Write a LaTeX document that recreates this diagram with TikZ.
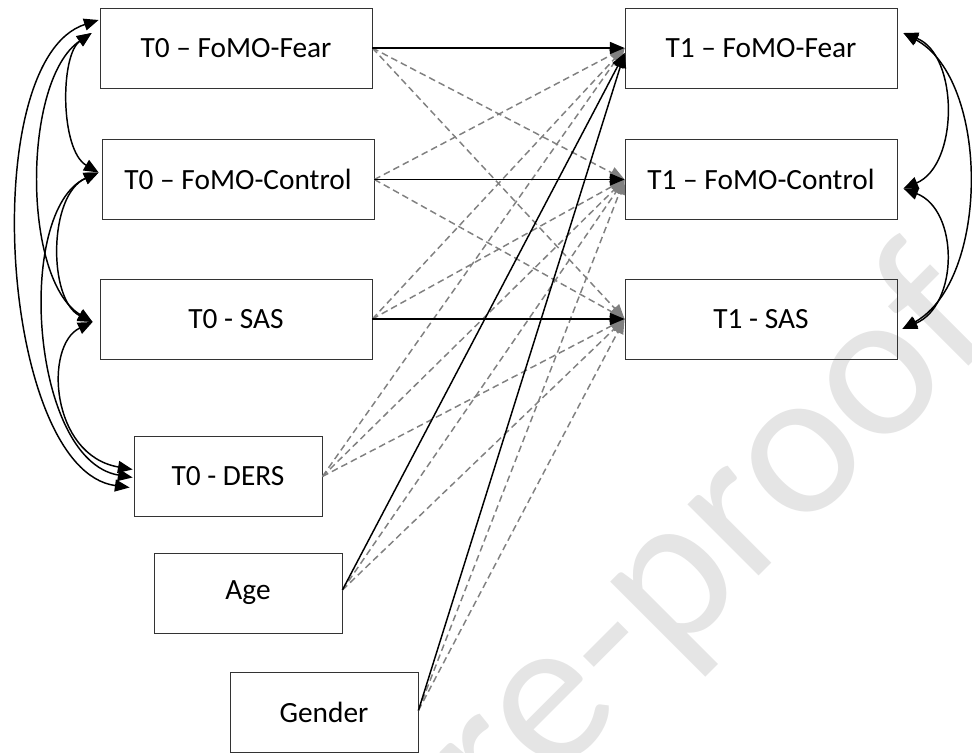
\documentclass[tikz,border=0pt]{standalone}
\usepackage{fontspec}
\setmainfont{Carlito}
\usetikzlibrary{arrows.meta}
\begin{document}
\begin{tikzpicture}[x=0.75pt,y=-0.75pt,
  box/.style={draw=black!80,line width=0.6pt,inner sep=0pt,font=\fontsize{22}{26}\selectfont},
  widebox/.style={box,minimum width=204pt,minimum height=60pt},
  smallbox/.style={box,minimum width=141pt,minimum height=60pt},
  solidarrow/.style={draw=black,line width=1.1pt,-{Triangle[length=11pt,width=9pt]}},
  dasharrow/.style={draw=black!50,line width=1.1pt,dash pattern=on 5pt off 3pt,-{Triangle[length=11pt,width=9pt]}},
  covar/.style={draw=black,line width=1.1pt,{Triangle[length=11pt,width=9pt]}-{Triangle[length=11pt,width=9pt]}}
]
\useasboundingbox (0,0) rectangle (972,753);
\clip (0,0) rectangle (972,753);
% watermark
\node[rotate=45,anchor=base east,text=black!10,font=\fontsize{158}{158}\selectfont,inner sep=0pt] (wm) at (1002,333) {Journal Pre-proof};
% boxes
\node[widebox] (f0) at (236,48) {T0 – FoMO-Fear};
\node[widebox] (c0) at (238,179.5) {T0 – FoMO-Control};
\node[widebox] (s0) at (236,319) {T0 - SAS};
\node[smallbox] (d0) at (228,476.5) {T0 - DERS};
\node[smallbox] (age) at (248,593) {Age};
\node[smallbox] (gen) at (324,712.5) {Gender};
\node[widebox] (f1) at (761,48) {T1 – FoMO-Fear};
\node[widebox] (c1) at (761,179.5) {T1 – FoMO-Control};
\node[widebox] (s1) at (761,319) {T1 - SAS};
% dashed paths
\draw[dasharrow] (f0.east) -- (c1.west);
\draw[dasharrow] (f0.east) -- (s1.west);
\draw[dasharrow] (c0.east) -- (f1.west);
\draw[dasharrow] (c0.east) -- (s1.west);
\draw[dasharrow] (s0.east) -- (f1.west);
\draw[dasharrow] (s0.east) -- (c1.west);
\draw[dasharrow] (d0.east) -- (f1.west);
\draw[dasharrow] (d0.east) -- (c1.west);
\draw[dasharrow] (d0.east) -- (s1.west);
\draw[dasharrow] ([shift={(0,-3)}]age.east) -- (c1.west);
\draw[dasharrow] ([shift={(0,-3)}]age.east) -- (s1.west);
\draw[dasharrow] ([shift={(0,-2)}]gen.east) -- (c1.west);
\draw[dasharrow] ([shift={(0,-2)}]gen.east) -- (s1.west);
% solid paths
\draw[solidarrow] (f0.east) -- (f1.west);
\draw[solidarrow] (c0.east) -- (c1.west);
\draw[solidarrow] (s0.east) -- (s1.west);
\draw[solidarrow] ([shift={(0,-3)}]age.east) -- ([shift={(0,5)}]f1.west);
\draw[solidarrow] ([shift={(0,-2)}]gen.east) -- ([shift={(0,5)}]f1.west);
% T0 covariances
\coordinate (fa) at ([shift={(-8,-15)}]f0.west);
\coordinate (fb) at ([shift={(-1,-28)}]f0.west);
\coordinate (ca) at ([shift={(-3,-7)}]c0.west);
\coordinate (sa) at ([shift={(-7,3)}]s0.west);
\coordinate (da) at ([shift={(-1,-7)}]d0.west);
\coordinate (db) at ([shift={(-1,1)}]d0.west);
\coordinate (dc) at ([shift={(-4,11)}]d0.west);
\draw[covar] (fa) .. controls (60,55) and (60,150) .. (ca);
\draw[covar] (fa) .. controls (22,80) and (22,280) .. (sa);
\draw[covar] (fb) .. controls (-25,60) and (0,470) .. (dc);
\draw[covar] (ca) .. controls (48,195) and (48,300) .. (sa);
\draw[covar] (ca) .. controls (15,210) and (30,460) .. (db);
\draw[covar] (sa) .. controls (44,345) and (50,455) .. (da);
% T1 covariances
\coordinate (fr) at ([shift={(6,-15)}]f1.east);
\coordinate (cr) at ([shift={(6,9)}]c1.east);
\coordinate (sr) at ([shift={(5,10)}]s1.east);
\draw[covar] (fr) .. controls (959,55) and (959,165) .. (cr);
\draw[covar] (cr) .. controls (959,210) and (959,305) .. (sr);
\draw[covar] (fr) .. controls (990,80) and (990,280) .. (sr);
\end{tikzpicture}
\end{document}
